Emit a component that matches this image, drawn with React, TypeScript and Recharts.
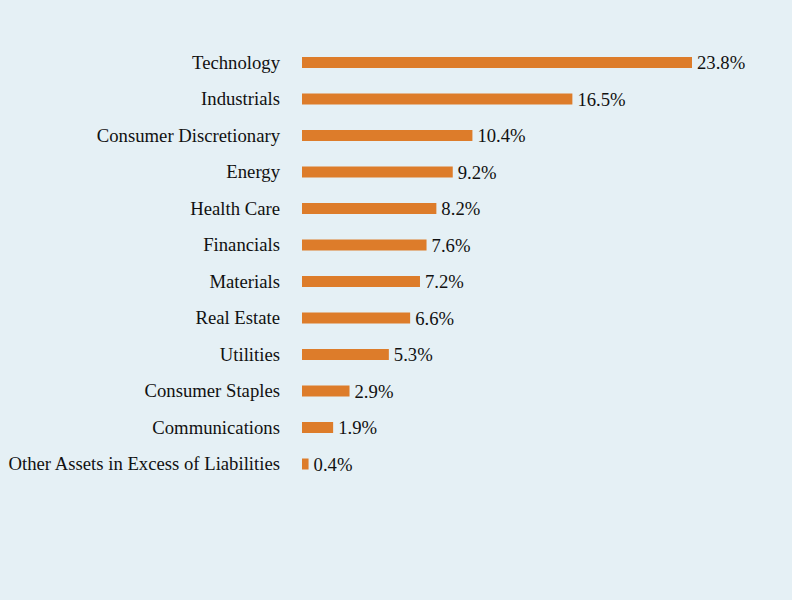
import { BarChart, Bar, XAxis, YAxis, LabelList } from "recharts";

const sectors = [
  "Technology",
  "Industrials",
  "Consumer Discretionary",
  "Energy",
  "Health Care",
  "Financials",
  "Materials",
  "Real Estate",
  "Utilities",
  "Consumer Staples",
  "Communications",
  "Other Assets in Excess of Liabilities",
];

const weights = [23.8, 16.5, 10.4, 9.2, 8.2, 7.6, 7.2, 6.6, 5.3, 2.9, 1.9, 0.4];

const chartData = sectors.map((name, i) => ({ name, value: weights[i] }));

const font = "'Liberation Serif', 'Times New Roman', serif";

export default function App() {
  return (
    <div
      style={{
        position: "fixed",
        top: 0,
        left: 0,
        width: 792,
        height: 600,
        background: "#e5f0f5",
      }}
    >
      <BarChart
        width={792}
        height={600}
        data={chartData}
        layout="vertical"
        margin={{ top: 44, right: 100, bottom: 118, left: 0 }}
      >
        <XAxis type="number" domain={[0, 23.8]} hide />
        <YAxis
          type="category"
          dataKey="name"
          width={302}
          axisLine={false}
          tickLine={false}
          tickMargin={16}
          interval={0}
          tick={{ fill: "#111", fontSize: 18.7, fontFamily: font }}
        />
        <Bar dataKey="value" fill="#dd7c2a" barSize={11} isAnimationActive={false}>
          <LabelList
            dataKey="value"
            position="right"
            offset={5}
            formatter={(v: number) => `${v.toFixed(1)}%`}
            style={{ fill: "#111", fontSize: 18.7, fontFamily: font }}
          />
        </Bar>
      </BarChart>
    </div>
  );
}
